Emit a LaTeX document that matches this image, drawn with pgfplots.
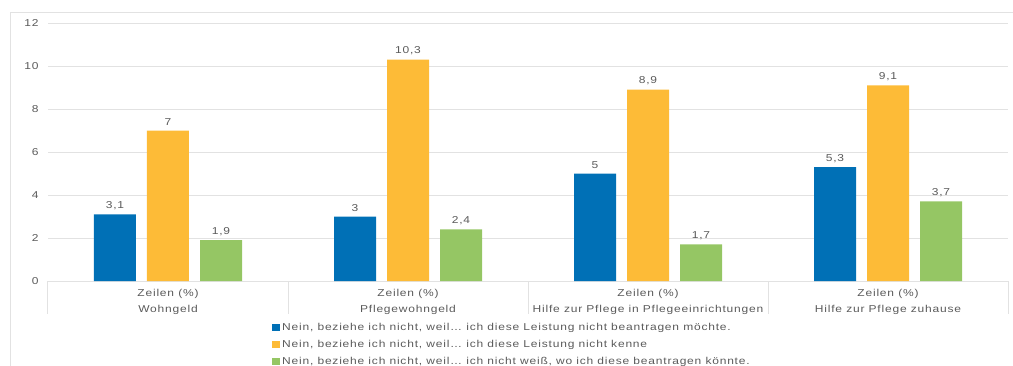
\documentclass[border=0pt]{standalone}
\usepackage{pgfplots}
\pgfplotsset{compat=1.18}
\usepackage{fontspec}
\setmainfont{Liberation Sans}[FakeStretch=1.2, LetterSpace=8]
\definecolor{cblue}{RGB}{0,112,182}
\definecolor{corange}{RGB}{253,187,55}
\definecolor{cgreen}{RGB}{149,198,100}
\definecolor{gridc}{RGB}{226,226,226}
\definecolor{txtc}{RGB}{90,90,90}
\begin{document}
\begin{tikzpicture}[x=1pt,y=1pt]
\path[use as bounding box] (-48,-84) rectangle (965,281);
\draw[gridc, line width=1pt] (-37,-90) -- (-37,269) -- (970,269);
\begin{axis}[
  at={(0,0)}, anchor=south west,
  scale only axis, width=960pt, height=258pt,
  ybar=11pt, bar width=42pt,
  xmin=-0.5, xmax=3.5, ymin=0, ymax=12,
  ytick={0,2,...,12},
  ymajorgrids, grid style={gridc, line width=0.8pt},
  axis line style={draw=none},
  axis x line*=bottom,
  x axis line style={draw=gridc, line width=1pt},
  major tick length=0pt,
  xtick={0,1,2,3},
  xticklabels={{Zeilen (\%)\\Wohngeld},{Zeilen (\%)\\Pflegewohngeld},{Zeilen (\%)\\Hilfe zur Pflege in Pflegeeinrichtungen},{Zeilen (\%)\\Hilfe zur Pflege zuhause}},
  xticklabel style={align=center, font=\fontsize{10}{16}\selectfont, text=txtc, yshift=-5pt},
  yticklabel style={font=\fontsize{10}{11}\selectfont, text=txtc, xshift=-6pt},
  /pgf/number format/assume math mode=true,
  /pgf/number format/use comma,
  nodes near coords,
  nodes near coords style={font=\fontsize{10}{11}\selectfont, text=txtc, /pgf/number format/fixed, /pgf/number format/precision=1, /pgf/number format/assume math mode=true, /pgf/number format/use comma, yshift=1pt},
  clip=false,
  legend style={at={(224pt,-40pt)}, anchor=north west, draw=none, fill=none, font=\fontsize{10}{11}\selectfont, text=txtc, row sep=4.4pt, inner sep=0pt},
  legend cell align=left,
  legend image code/.code={\fill[#1] (0pt,-3.5pt) rectangle (8pt,3.5pt);},
]
\addplot[fill=cblue, draw=none] coordinates {(0,3.1) (1,3) (2,5) (3,5.3)};
\addplot[fill=corange, draw=none] coordinates {(0,7) (1,10.3) (2,8.9) (3,9.1)};
\addplot[fill=cgreen, draw=none] coordinates {(0,1.9) (1,2.4) (2,1.7) (3,3.7)};
\legend{Nein{,} beziehe ich nicht{,} weil\dots{} ich diese Leistung nicht beantragen möchte.,
Nein{,} beziehe ich nicht{,} weil\dots{} ich diese Leistung nicht kenne,
Nein{,} beziehe ich nicht{,} weil\dots{} ich nicht weiß{,} wo ich diese beantragen könnte.}
\pgfplotsinvokeforeach{-0.5,0.5,1.5,2.5,3.5}{
  \draw[gridc, line width=1pt] ([yshift=-33pt]axis cs:#1,0) -- (axis cs:#1,0);
}
\end{axis}
\end{tikzpicture}
\end{document}
